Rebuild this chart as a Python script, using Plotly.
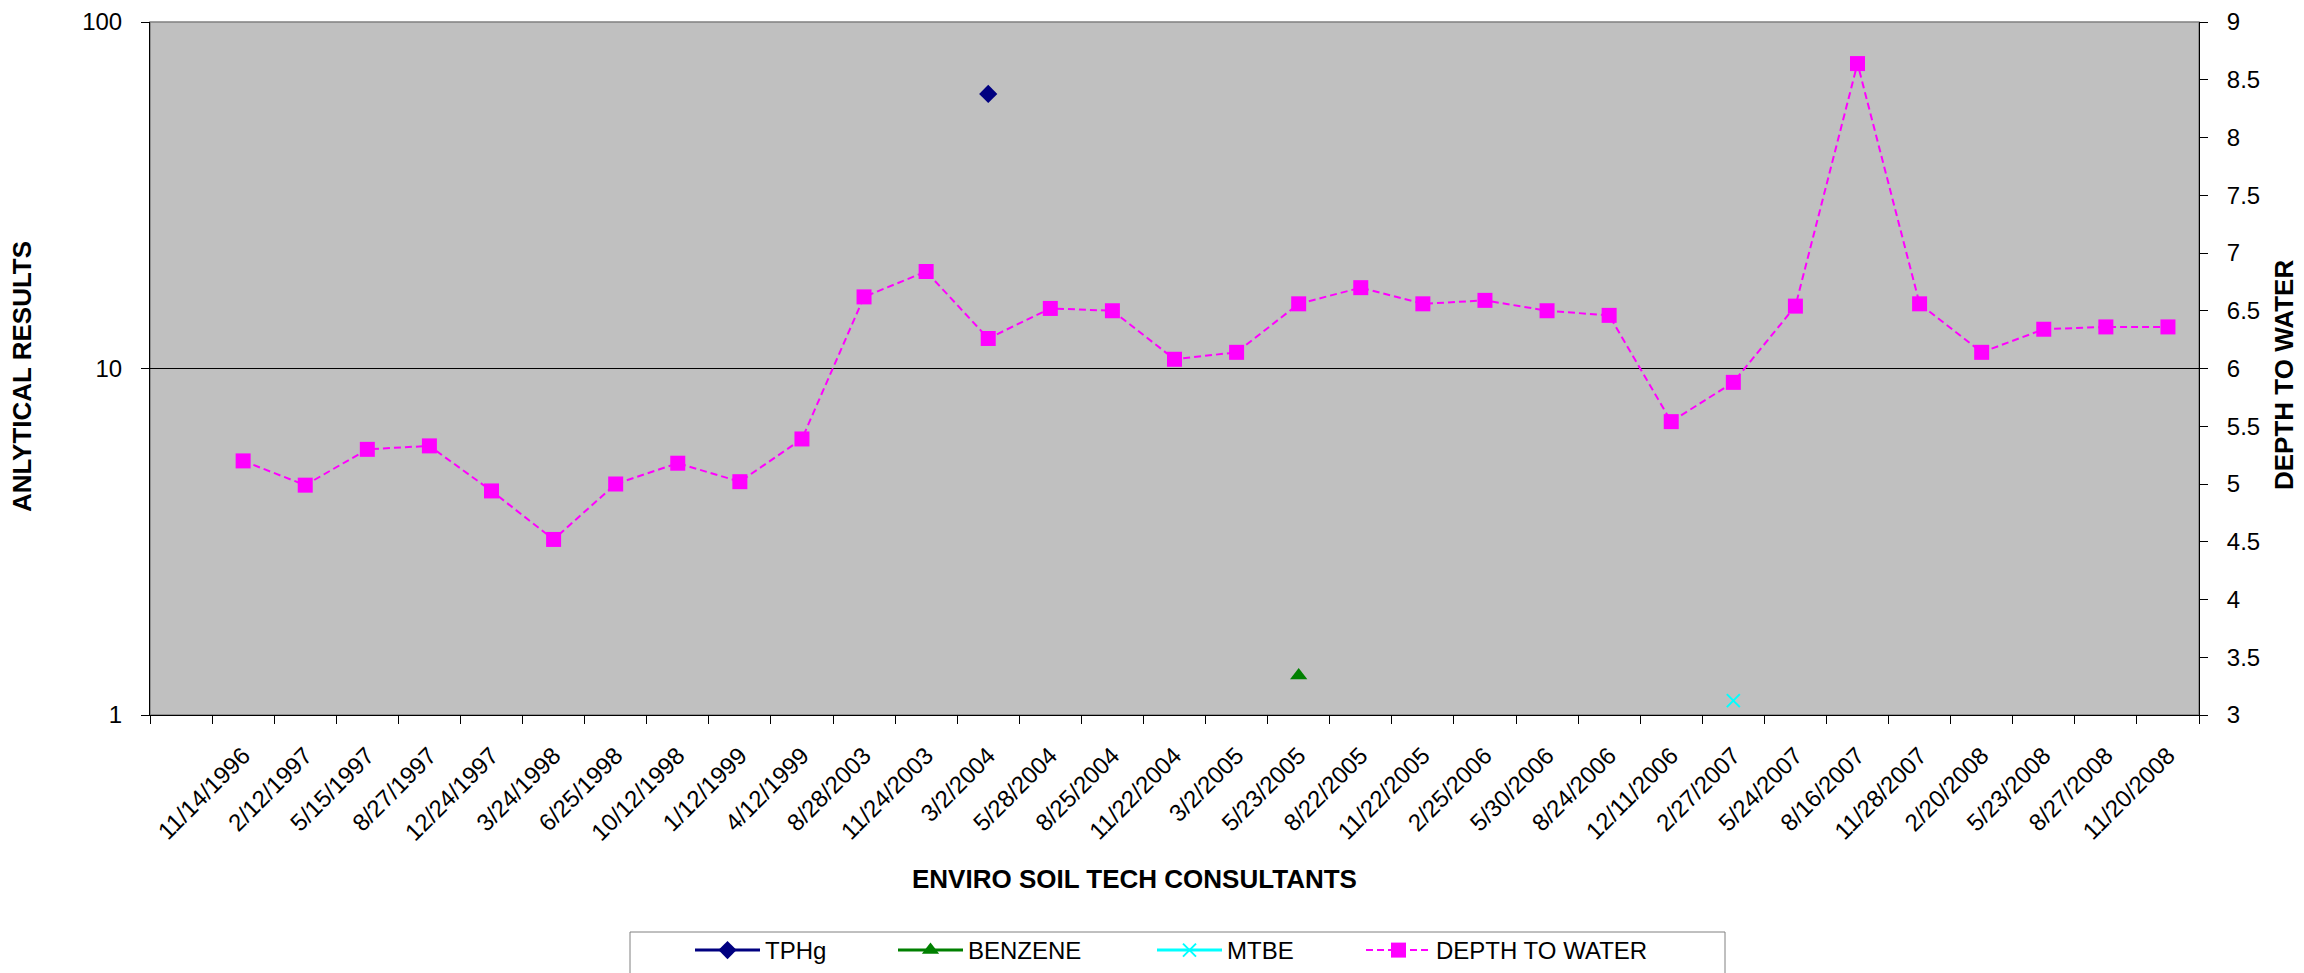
import plotly.graph_objects as go
from plotly.subplots import make_subplots

# sampling dates (first column of the sheet is an empty row)
dates = ["11/14/1996", "2/12/1997", "5/15/1997", "8/27/1997", "12/24/1997",
         "3/24/1998", "6/25/1998", "10/12/1998", "1/12/1999", "4/12/1999",
         "8/28/2003", "11/24/2003", "3/2/2004", "5/28/2004", "8/25/2004",
         "11/22/2004", "3/2/2005", "5/23/2005", "8/22/2005", "11/22/2005",
         "2/25/2006", "5/30/2006", "8/24/2006", "12/11/2006", "2/27/2007",
         "5/24/2007", "8/16/2007", "11/28/2007", "2/20/2008", "5/23/2008",
         "8/27/2008", "11/20/2008"]
categories = [" "] + dates

depth_to_water = [5.20, 4.99, 5.30, 5.33, 4.94, 4.52, 5.00, 5.18, 5.02, 5.39,
                  6.62, 6.84, 6.26, 6.52, 6.50, 6.08, 6.14, 6.56, 6.70, 6.56,
                  6.59, 6.50, 6.46, 5.54, 5.88, 6.54, 8.64, 6.56, 6.14, 6.34,
                  6.36, 6.36]

tphg_dates = ["3/2/2004"]
tphg = [62]
benzene_dates = ["5/23/2005"]
benzene = [1.3]
mtbe_dates = ["2/27/2007"]
mtbe = [1.1]

FONT = "Liberation Sans, Arial, sans-serif"
W, H = 2304, 973
L, R, T, B = 142, 113, 14, 266
PW, PH = W - L - R, H - T - B


def px(x):
    return (x - L) / PW


def py(y):
    return (H - B - y) / PH


def legend_box(x_left):
    return dict(
        orientation="h",
        x=px(x_left), xanchor="left",
        y=py(920), yanchor="top",
        bgcolor="rgba(0,0,0,0)",
        borderwidth=0,
        itemwidth=65,
        font=dict(family=FONT, size=24, color="black"),
    )


fig = make_subplots(specs=[[{"secondary_y": True}]])

fig.add_trace(go.Scatter(
    x=tphg_dates, y=tphg, mode="lines+markers", name="TPHg",
    line=dict(color="#000080", width=3),
    marker=dict(symbol="diamond", size=14, color="#000080"),
    legend="legend"
), secondary_y=False)

fig.add_trace(go.Scatter(
    x=benzene_dates, y=benzene, mode="lines+markers", name="BENZENE",
    line=dict(color="#008000", width=3),
    marker=dict(symbol="triangle-up", size=15, color="#008000"),
    legend="legend2"
), secondary_y=False)

fig.add_trace(go.Scatter(
    x=mtbe_dates, y=mtbe, mode="lines+markers", name="MTBE",
    line=dict(color="#00FFFF", width=3),
    marker=dict(symbol="x-thin", size=13, color="#00FFFF",
                line=dict(color="#00FFFF", width=2)),
    legend="legend3"
), secondary_y=False)

fig.add_trace(go.Scatter(
    x=dates, y=depth_to_water, mode="lines+markers", name="DEPTH TO WATER",
    line=dict(color="#FF00FF", width=2, dash="7px,4px"),
    marker=dict(symbol="square", size=15, color="#FF00FF"),
    legend="legend4"
), secondary_y=True)

fig.update_layout(
    width=W, height=H,
    margin=dict(l=L, r=R, t=T, b=B, autoexpand=False),
    paper_bgcolor="white",
    plot_bgcolor="#C0C0C0",
    font=dict(family=FONT, size=24, color="black"),
    showlegend=True,
    legend=legend_box(682),
    legend2=legend_box(885),
    legend3=legend_box(1144),
    legend4=legend_box(1353),
    xaxis=dict(
        domain=[0, 1],
        type="category",
        categoryorder="array",
        categoryarray=categories,
        range=[-0.5, len(categories) - 0.5],
        tickson="boundaries",
        ticks="outside", ticklen=8, tickcolor="black",
        tickangle=-45,
        ticklabelstandoff=16,
        tickfont=dict(family=FONT, size=24, color="black"),
        showline=True, linecolor="black", linewidth=1,
        showgrid=False, zeroline=False,
    ),
    xaxis3=dict(
        domain=[0, 1],
        overlaying="x", anchor="y",
        range=[-0.5, len(categories) - 0.5],
        tick0=-0.5, dtick=1,
        ticks="inside", ticklen=8, tickcolor="black",
        showticklabels=False, showline=False, showgrid=False, zeroline=False,
    ),
    annotations=[
        dict(text="<b>ANLYTICAL RESULTS</b>", xref="paper", yref="paper",
             x=px(14), y=py(369), xanchor="center", yanchor="middle",
             textangle=-90, showarrow=False,
             font=dict(family=FONT, size=26, color="black")),
        dict(text="<b>DEPTH TO WATER</b>", xref="paper", yref="paper",
             x=px(2276), y=py(367), xanchor="center", yanchor="middle",
             textangle=-90, showarrow=False,
             font=dict(family=FONT, size=26, color="black")),
        dict(text="<b>ENVIRO SOIL TECH CONSULTANTS</b>", xref="paper", yref="paper",
             x=px(1126), y=py(871), xanchor="center", yanchor="middle",
             showarrow=False,
             font=dict(family=FONT, size=26, color="black")),
    ],
    shapes=[
        dict(type="rect", xref="paper", yref="paper", x0=0, x1=1, y0=0, y1=1,
             line=dict(color="#808080", width=1.5), layer="below"),
        dict(type="rect", xref="paper", yref="paper",
             x0=px(622), x1=px(1717), y0=py(924), y1=py(990),
             line=dict(color="#808080", width=1), fillcolor="white", layer="below"),
    ],
)

fig.update_yaxes(
    type="log", range=[0, 2],
    tickvals=[1, 10, 100], ticktext=["1", "10", "100"],
    ticks="outside", ticklen=8, tickcolor="black",
    ticklabelstandoff=14, ticklabeloverflow="allow",
    tickfont=dict(family=FONT, size=24, color="black"),
    showline=True, linecolor="black", linewidth=1,
    showgrid=True, gridcolor="black", gridwidth=1, zeroline=False,
    secondary_y=False,
)

fig.update_yaxes(
    range=[3, 9], dtick=0.5, tick0=3,
    ticks="outside", ticklen=8, tickcolor="black",
    ticklabelstandoff=14, ticklabeloverflow="allow",
    tickfont=dict(family=FONT, size=24, color="black"),
    showline=True, linecolor="black", linewidth=1,
    showgrid=False, zeroline=False,
    secondary_y=True,
)

fig.write_html("out.html")
